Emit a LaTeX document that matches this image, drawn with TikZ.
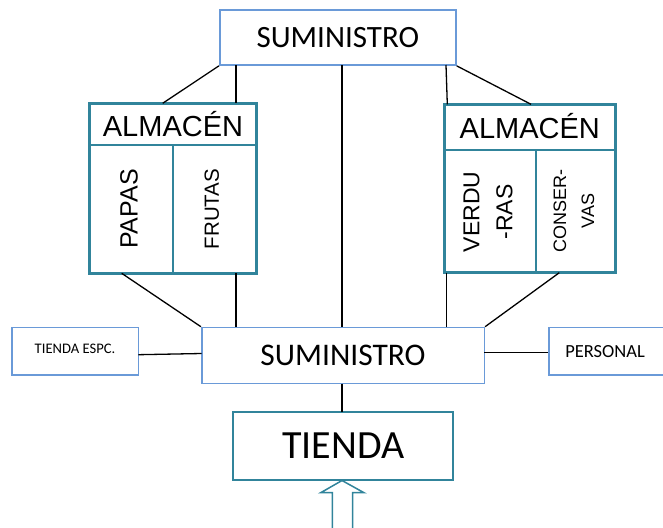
\documentclass[tikz,border=0pt]{standalone}
\usepackage{fontspec}
\setmainfont{Liberation Sans}
\newfontfamily\calib{Carlito}
\definecolor{boxblue}{HTML}{6A9AD8}
\definecolor{teal2}{HTML}{31849B}
\begin{document}
\begin{tikzpicture}[x=1pt,y=-1pt,
  bluebox/.style={draw=boxblue,line width=1.6pt,fill=white,inner sep=0pt,font=\calib},
  tealbox/.style={draw=teal2,line width=2.6pt,inner sep=0pt},
  conn/.style={line width=1.3pt,black},
  rot/.style={rotate=90,align=center,inner sep=0pt}]
\useasboundingbox (0,0) rectangle (663,527);
% top SUMINISTRO
\node[bluebox,minimum width=236pt,minimum height=55pt,font=\calib\fontsize{31}{31}\selectfont] (sup) at (337.8,37.5) {\raisebox{-4pt}{SUMINISTRO}};
% left almacen
\node[tealbox,minimum width=167.4pt,minimum height=170pt] (almL) at (173,188.3) {};
\coordinate (almLh1) at (89.3,145);
\coordinate (almLh2) at (256.7,145);
\coordinate (almLv) at (172.7,145);
\coordinate (almLvb) at (172.7,273.3);
\draw[draw=teal2,line width=2pt] (almLh1) -- (almLh2) (almLv) -- (almLvb);
\node[font=\fontsize{29}{29}\selectfont,inner sep=0pt] (almLt) at (173,124) {ALMACÉN};
\node[rot,font=\fontsize{25}{25}\selectfont] (papas) at (129,209) {PAPAS};
\node[rot,font=\fontsize{20.5}{20.5}\selectfont] (frutas) at (211.7,209) {FRUTAS};
% right almacen
\node[tealbox,minimum width=171pt,minimum height=168.4pt] (almR) at (529.8,188.5) {};
\coordinate (almRh1) at (444.3,150);
\coordinate (almRh2) at (615.3,150);
\coordinate (almRv) at (535.7,150);
\coordinate (almRvb) at (535.7,272.7);
\draw[draw=teal2,line width=2pt] (almRh1) -- (almRh2) (almRv) -- (almRvb);
\node[font=\fontsize{29}{29}\selectfont,inner sep=0pt] (almRt) at (529.8,126) {ALMACÉN};
\node[rot,font=\fontsize{23}{33}\selectfont] (verdu) at (488,212) {VERDU\\-RAS};
\node[rot,font=\fontsize{18}{28}\selectfont] (conser) at (574,211) {CONSER-\\VAS};
% bottom SUMINISTRO
\node[bluebox,minimum width=282.6pt,minimum height=56pt,font=\calib\fontsize{31.5}{31.5}\selectfont] (sub) at (343,355.5) {\raisebox{-3pt}{SUMINISTRO}};
% side boxes
\node[bluebox,minimum width=126.6pt,minimum height=47.3pt,font=\calib\fontsize{14.6}{14.6}\selectfont] (esp) at (75,351.3) {\raisebox{6pt}{TIENDA ESPC.}};
\node[bluebox,minimum width=116pt,minimum height=47.3pt,font=\calib\fontsize{18.5}{18.5}\selectfont,anchor=west] (pers) at (548.3,351.3) {\hspace*{-4pt}PERSONAL};
% TIENDA
\node[draw=teal2,line width=2pt,fill=white,minimum width=220pt,minimum height=68.3pt,inner sep=0pt,font=\calib\fontsize{40}{40}\selectfont] (tienda) at (343.3,445.8) {\raisebox{-2pt}{TIENDA}};
% connectors top
\coordinate (c1) at (162.7,103.3);
\coordinate (c2a) at (236,65);
\coordinate (c2b) at (236,103.3);
\coordinate (c3a) at (342,65);
\coordinate (c3b) at (342,327.3);
\coordinate (c4a) at (446,65);
\coordinate (c4b) at (447.3,104.3);
\coordinate (c5) at (531,104.3);
\draw[conn] (sup.south west) -- (c1);
\draw[conn] (c2a) -- (c2b);
\draw[conn] (c3a) -- (c3b);
\draw[conn] (c4a) -- (c4b);
\draw[conn] (sup.south east) -- (c5);
% connectors bottom
\coordinate (d1) at (121.7,273.3);
\coordinate (d2a) at (236,273.3);
\coordinate (d2b) at (236,327.3);
\coordinate (d3a) at (446.7,272.7);
\coordinate (d3b) at (446.7,327.3);
\coordinate (d4) at (559.3,272.7);
\draw[conn] (d1) -- (sub.north west);
\draw[conn] (d2a) -- (d2b);
\draw[conn] (d3a) -- (d3b);
\draw[conn] (d4) -- (sub.north east);
\coordinate (e1) at (138.3,354.7);
\coordinate (e2) at (201.7,353.5);
\draw[conn] (e1) -- (e2);
\coordinate (f1) at (484.3,352.7);
\coordinate (f2) at (548.3,352.7);
\draw[conn] (f1) -- (f2);
\coordinate (g1) at (342,383.5);
\coordinate (g2) at (342,411.7);
\draw[conn] (g1) -- (g2);
% block arrow
\coordinate (tip) at (342,480.5);
\draw[draw=teal2,line width=1.5pt,fill=white] (332.3,530) -- (332.3,492.7) -- (320.7,492.7) -- (tip) -- (364,492.7) -- (352.7,492.7) -- (352.7,530);
\end{tikzpicture}
\end{document}
